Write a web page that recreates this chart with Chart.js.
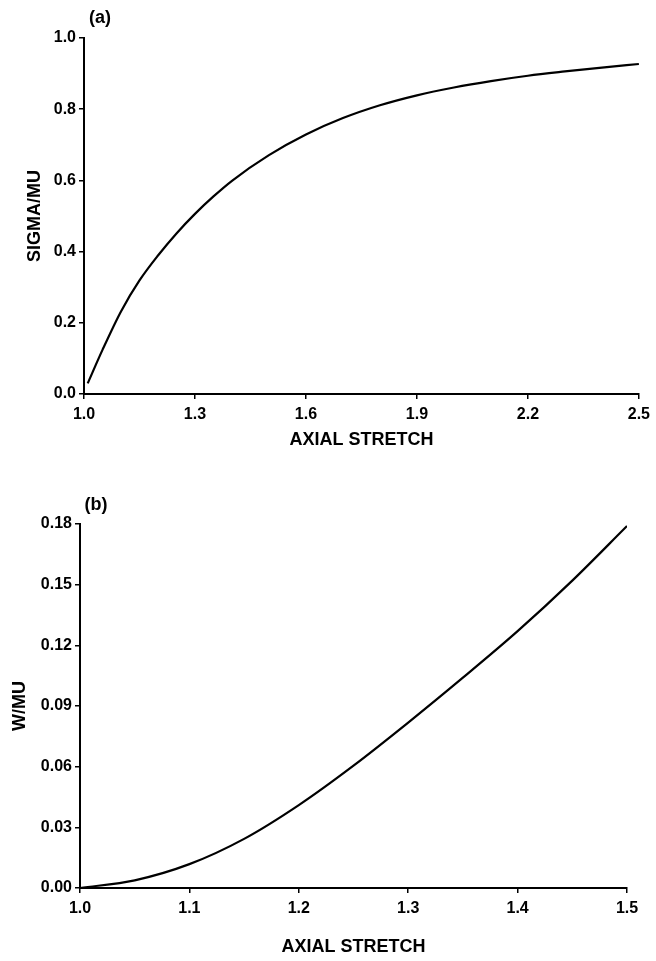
<!DOCTYPE html>
<html>
<head>
<meta charset="utf-8">
<script src="https://cdn.jsdelivr.net/npm/chart.js@4.4.1/dist/chart.umd.min.js"></script>
<style>
  body { margin: 0; background: #fff; }
  canvas { display: block; }
</style>
</head>
<body>
<canvas id="chartA" width="656" height="480"></canvas>
<canvas id="chartB" width="656" height="481"></canvas>
<script>
// panel (a): sigma/mu vs axial stretch
var stretchA = [1.01, 1.05, 1.1, 1.15, 1.2, 1.25, 1.3, 1.35, 1.4, 1.5, 1.6, 1.7, 1.8, 1.9, 2.0, 2.1, 2.2, 2.3, 2.4, 2.5];
var sigmaMu  = [0.03, 0.124, 0.232, 0.319, 0.389, 0.451, 0.506, 0.555, 0.599, 0.671, 0.729, 0.775, 0.811, 0.839, 0.861, 0.879, 0.894, 0.906, 0.917, 0.927];
var xTicksA = [1.0, 1.3, 1.6, 1.9, 2.2, 2.5];
var yTicksA = [0.0, 0.2, 0.4, 0.6, 0.8, 1.0];

// panel (b): W/mu vs axial stretch
var stretchB = [1.0, 1.05, 1.1, 1.15, 1.2, 1.25, 1.3, 1.35, 1.4, 1.45, 1.5];
var wMu      = [0.0, 0.0038, 0.0118, 0.0243, 0.041, 0.0605, 0.0818, 0.104, 0.127, 0.152, 0.179];
var xTicksB = [1.0, 1.1, 1.2, 1.3, 1.4, 1.5];
var yTicksB = [0.00, 0.03, 0.06, 0.09, 0.12, 0.15, 0.18];

var FONT = "'Liberation Sans', Arial, sans-serif";

// draws the "(a)" / "(b)" tag above the plot
var panelTag = {
  id: 'panelTag',
  afterDraw: function(chart, args, opts) {
    var ctx = chart.ctx;
    ctx.save();
    ctx.font = "bold 18px " + FONT;
    ctx.fillStyle = '#000';
    ctx.textAlign = 'center';
    ctx.textBaseline = 'middle';
    ctx.fillText(opts.text, chart.chartArea.left + opts.dx, chart.chartArea.top - opts.dy);
    ctx.restore();
  }
};

function makeChart(id, xs, ys, xTicks, yTicks, opt) {
  var pts = xs.map(function(x, i) { return {x: x, y: ys[i]}; });
  return new Chart(id, {
    type: 'line',
    data: {
      datasets: [{
        data: pts,
        borderColor: '#000',
        borderWidth: 2.2,
        pointRadius: 0,
        fill: false,
        cubicInterpolationMode: 'monotone'
      }]
    },
    options: {
      responsive: false,
      animation: false,
      layout: { padding: { top: opt.padTop, right: opt.padRight, left: 0, bottom: 0 } },
      plugins: {
        legend: { display: false },
        tooltip: { enabled: false },
        panelTag: { text: opt.tag, dx: opt.tagDx, dy: opt.tagDy }
      },
      scales: {
        x: {
          type: 'linear',
          min: xTicks[0],
          max: xTicks[xTicks.length - 1],
          afterBuildTicks: function(s) { s.ticks = xTicks.map(function(v) { return {value: v}; }); },
          afterFit: function(s) { s.height = opt.xHeight; },
          border: { display: true, color: '#000', width: 2 },
          grid: { display: true, drawOnChartArea: false, drawTicks: true, tickLength: 5, color: '#000', lineWidth: 1.5 },
          ticks: {
            color: '#000',
            padding: 6,
            maxRotation: 0,
            font: { family: FONT, size: 16, weight: 'bold' },
            callback: function(v) { return v.toFixed(1); }
          },
          title: {
            display: true,
            text: 'AXIAL STRETCH',
            color: '#000',
            font: { family: FONT, size: 18, weight: 'bold' },
            padding: { top: 0, bottom: opt.xTitlePad }
          }
        },
        y: {
          type: 'linear',
          min: yTicks[0],
          max: yTicks[yTicks.length - 1],
          afterBuildTicks: function(s) { s.ticks = yTicks.map(function(v) { return {value: v}; }); },
          afterFit: function(s) { s.width = opt.yWidth; },
          border: { display: true, color: '#000', width: 2 },
          grid: { display: true, drawOnChartArea: false, drawTicks: true, tickLength: 5, color: '#000', lineWidth: 1.5 },
          ticks: {
            color: '#000',
            padding: 3,
            font: { family: FONT, size: 16, weight: 'bold' },
            callback: function(v) { return v.toFixed(opt.yDec); }
          },
          title: {
            display: true,
            text: opt.yTitle,
            color: '#000',
            font: { family: FONT, size: 18, weight: 'bold' },
            padding: { top: opt.yTitlePad, bottom: 0 }
          }
        }
      }
    },
    plugins: [panelTag]
  });
}

makeChart('chartA', stretchA, sigmaMu, xTicksA, yTicksA, {
  tag: '(a)', tagDx: 16, tagDy: 20,
  padTop: 38, padRight: 12, xHeight: 86, yWidth: 84,
  xTitlePad: 29, yTitlePad: 24, yTitle: 'SIGMA/MU', yDec: 1
});

makeChart('chartB', stretchB, wMu, xTicksB, yTicksB, {
  tag: '(b)', tagDx: 16, tagDy: 19,
  padTop: 44, padRight: 29, xHeight: 73, yWidth: 80,
  xTitlePad: 3, yTitlePad: 9, yTitle: 'W/MU', yDec: 2
});
</script>
</body>
</html>
